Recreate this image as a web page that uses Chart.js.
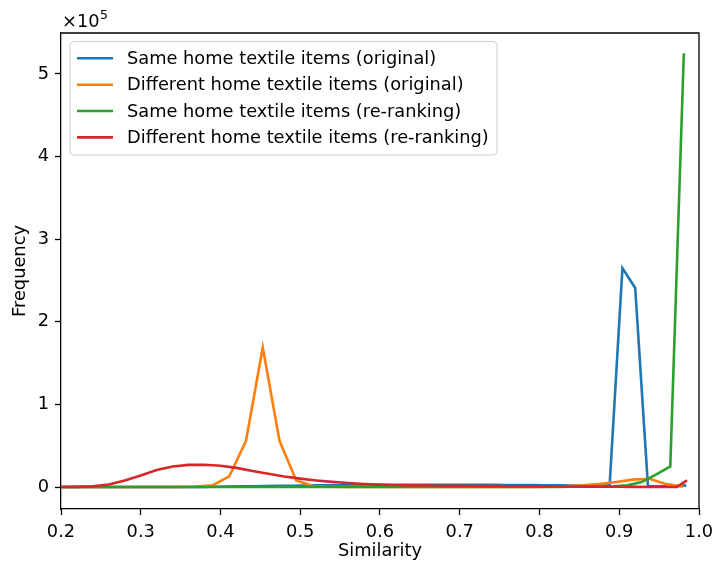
<!DOCTYPE html>
<html>
<head>
<meta charset="utf-8">
<script src="https://cdn.jsdelivr.net/npm/chart.js"></script>
<style>
  html, body { margin: 0; padding: 0; background: #fff; }
  #wrap { width: 714px; height: 565px; }
</style>
</head>
<body>
<div id="wrap"><canvas id="chart" width="714" height="565"></canvas></div>
<script>
// values are in units of 1e5 (frequency)
const labels = [
    'Same home textile items (original)',
    'Different home textile items (original)',
    'Same home textile items (re-ranking)',
    'Different home textile items (re-ranking)'
];
const colors = ['#1f77b4', '#ff7f0e', '#2ca02c', '#d62728'];

const sameOrigX = [0.200,0.216,0.232,0.248,0.264,0.280,0.296,0.312,0.328,0.344,0.360,0.376,0.392,0.408,0.424,0.440,0.456,0.472,0.488,0.504,0.520,0.536,0.552,0.568,0.584,0.600,0.616,0.632,0.648,0.664,0.680,0.696,0.712,0.728,0.744,0.760,0.776,0.792,0.808,0.824,0.840,0.856,0.872,0.888,0.904,0.920,0.936,0.952,0.968,0.984];
const sameOrigY = [0,0,0,0,0,0,0,0,0,0,0,0,0.003,0.005,0.008,0.010,0.012,0.014,0.016,0.018,0.020,0.021,0.022,0.023,0.024,0.025,0.025,0.026,0.026,0.027,0.027,0.027,0.027,0.026,0.026,0.025,0.025,0.024,0.022,0.020,0.018,0.016,0.018,0.030,2.65,2.41,0.010,0.008,0.010,0.020];

const diffOrigX = [0.200,0.221,0.242,0.263,0.284,0.305,0.326,0.348,0.369,0.390,0.411,0.432,0.453,0.474,0.495,0.516,0.537,0.558,0.579,0.600,0.622,0.643,0.664,0.685,0.706,0.727,0.748,0.769,0.790,0.811,0.832,0.853,0.874,0.896,0.917,0.938,0.959,0.980];
const diffOrigY = [0,0,0,0,0,0,0,0.002,0.005,0.020,0.13,0.56,1.69,0.56,0.08,0.012,0.004,0.002,0.002,0.002,0.002,0.002,0.002,0.002,0.002,0.002,0.002,0.002,0.002,0.004,0.010,0.020,0.035,0.060,0.090,0.100,0.035,0.005];

const sameRerX = [0.200,0.218,0.236,0.253,0.271,0.289,0.307,0.324,0.342,0.360,0.378,0.395,0.413,0.431,0.449,0.466,0.484,0.502,0.520,0.537,0.555,0.573,0.591,0.609,0.626,0.644,0.662,0.680,0.697,0.715,0.733,0.751,0.768,0.786,0.804,0.822,0.839,0.857,0.875,0.893,0.910,0.928,0.946,0.964,0.981];
const sameRerY = [0,0,0,0,0,0,0,0,0,0,0,0.001,0.001,0.001,0.002,0.002,0.002,0.002,0.002,0.002,0.002,0.002,0.002,0.002,0.002,0.002,0.002,0.002,0.002,0.002,0.002,0.002,0.002,0.002,0.002,0.002,0.003,0.003,0.004,0.008,0.020,0.060,0.150,0.250,5.25];

const diffRerX = [0.20,0.22,0.24,0.26,0.28,0.30,0.32,0.34,0.36,0.38,0.40,0.42,0.44,0.46,0.48,0.50,0.52,0.54,0.56,0.58,0.60,0.62,0.64,0.66,0.68,0.70,0.72,0.74,0.76,0.78,0.80,0.82,0.84,0.86,0.88,0.90,0.92,0.94,0.96,0.972,0.985];
const diffRerY = [0,0.002,0.008,0.030,0.078,0.140,0.205,0.248,0.268,0.270,0.258,0.232,0.195,0.160,0.128,0.102,0.080,0.062,0.048,0.037,0.029,0.024,0.020,0.018,0.016,0.014,0.012,0.011,0.010,0.009,0.008,0.007,0.006,0.005,0.004,0.003,0.002,0.001,0.001,0,0.08];

const xTicks = [0.2, 0.3, 0.4, 0.5, 0.6, 0.7, 0.8, 0.9, 1.0];
const yTicks = [0, 1, 2, 3, 4, 5];

const seriesX = [sameOrigX, diffOrigX, sameRerX, diffRerX];
const seriesY = [sameOrigY, diffOrigY, sameRerY, diffRerY];

const FS = 17.8;
Chart.defaults.font.family = 'DejaVu Sans';
Chart.defaults.font.size = FS;
Chart.defaults.color = '#000';

const datasets = labels.map((lab, i) => ({
    label: lab,
    data: seriesX[i].map((x, j) => ({ x: x, y: seriesY[i][j] })),
    borderColor: colors[i],
    backgroundColor: colors[i],
    borderWidth: 2.6,
    pointRadius: 0,
    tension: 0,
    order: 4 - i   // later series drawn on top, like matplotlib
}));

// frame top/right, the x10^5 offset text and the legend box inside the plot
const extras = {
    id: 'extras',
    afterDatasetsDraw(chart) {
        const ctx = chart.ctx;
        const a = chart.chartArea;
        ctx.save();
        ctx.strokeStyle = '#000';
        ctx.lineWidth = 1.3;
        ctx.beginPath();
        ctx.moveTo(a.left, a.top);
        ctx.lineTo(a.right, a.top);
        ctx.lineTo(a.right, a.bottom);
        ctx.stroke();

        // offset text
        ctx.fillStyle = '#000';
        ctx.textBaseline = 'alphabetic';
        ctx.textAlign = 'left';
        ctx.font = FS + 'px "DejaVu Sans"';
        ctx.fillText('\u00d710', 62, 27);
        const w = ctx.measureText('\u00d710').width;
        ctx.font = '12.5px "DejaVu Sans"';
        ctx.fillText('5', 62 + w + 0.5, 19);

        // legend
        const bx = 70, by = 41.5, bw = 427, bh = 113.5, r = 4;
        ctx.beginPath();
        ctx.moveTo(bx + r, by);
        ctx.arcTo(bx + bw, by, bx + bw, by + bh, r);
        ctx.arcTo(bx + bw, by + bh, bx, by + bh, r);
        ctx.arcTo(bx, by + bh, bx, by, r);
        ctx.arcTo(bx, by, bx + bw, by, r);
        ctx.closePath();
        ctx.fillStyle = 'rgba(255,255,255,0.8)';
        ctx.fill();
        ctx.strokeStyle = '#cccccc';
        ctx.lineWidth = 1;
        ctx.stroke();

        const rows = [58.3, 84.7, 111, 137.4];
        ctx.font = FS + 'px "DejaVu Sans"';
        ctx.textBaseline = 'middle';
        chart.data.datasets.forEach((ds, i) => {
            ctx.strokeStyle = ds.borderColor;
            ctx.lineWidth = 2.6;
            ctx.beginPath();
            ctx.moveTo(77, rows[i]);
            ctx.lineTo(113, rows[i]);
            ctx.stroke();
            ctx.fillStyle = '#000';
            ctx.fillText(ds.label, 127, rows[i] + 1);
        });
        ctx.restore();
    }
};

new Chart(document.getElementById('chart'), {
    type: 'line',
    data: { datasets: datasets },
    options: {
        responsive: false,
        animation: false,
        layout: { padding: { left: 0, right: 15, top: 33, bottom: 0 } },
        plugins: {
            legend: { display: false },
            tooltip: { enabled: false }
        },
        scales: {
            x: {
                type: 'linear',
                min: 0.2,
                max: 1.0,
                afterBuildTicks: s => { s.ticks = xTicks.map(v => ({ value: v })); },
                afterFit: s => { s.height = 56; s.paddingLeft = 0; s.paddingRight = 0; },
                ticks: {
                    padding: 7,
                    maxRotation: 0,
                    autoSkip: false,
                    callback: v => v.toFixed(1)
                },
                grid: { display: true, drawOnChartArea: false, drawTicks: true, tickLength: 6, tickColor: '#000', tickWidth: 1.3 },
                border: { display: true, color: '#000', width: 1.3 },
                title: { display: true, text: 'Similarity', padding: { top: 0, bottom: 3 } }
            },
            y: {
                type: 'linear',
                min: -0.266,
                max: 5.496,
                afterBuildTicks: s => { s.ticks = yTicks.map(v => ({ value: v })); },
                afterFit: s => { s.width = 61; s.paddingTop = 0; s.paddingBottom = 0; },
                ticks: {
                    padding: 6,
                    autoSkip: false,
                    callback: v => String(v)
                },
                grid: { display: true, drawOnChartArea: false, drawTicks: true, tickLength: 6, tickColor: '#000', tickWidth: 1.3 },
                border: { display: true, color: '#000', width: 1.3 },
                title: { display: true, text: 'Frequency', padding: { top: 10, bottom: 0 } }
            }
        }
    },
    plugins: [extras]
});
</script>
</body>
</html>
